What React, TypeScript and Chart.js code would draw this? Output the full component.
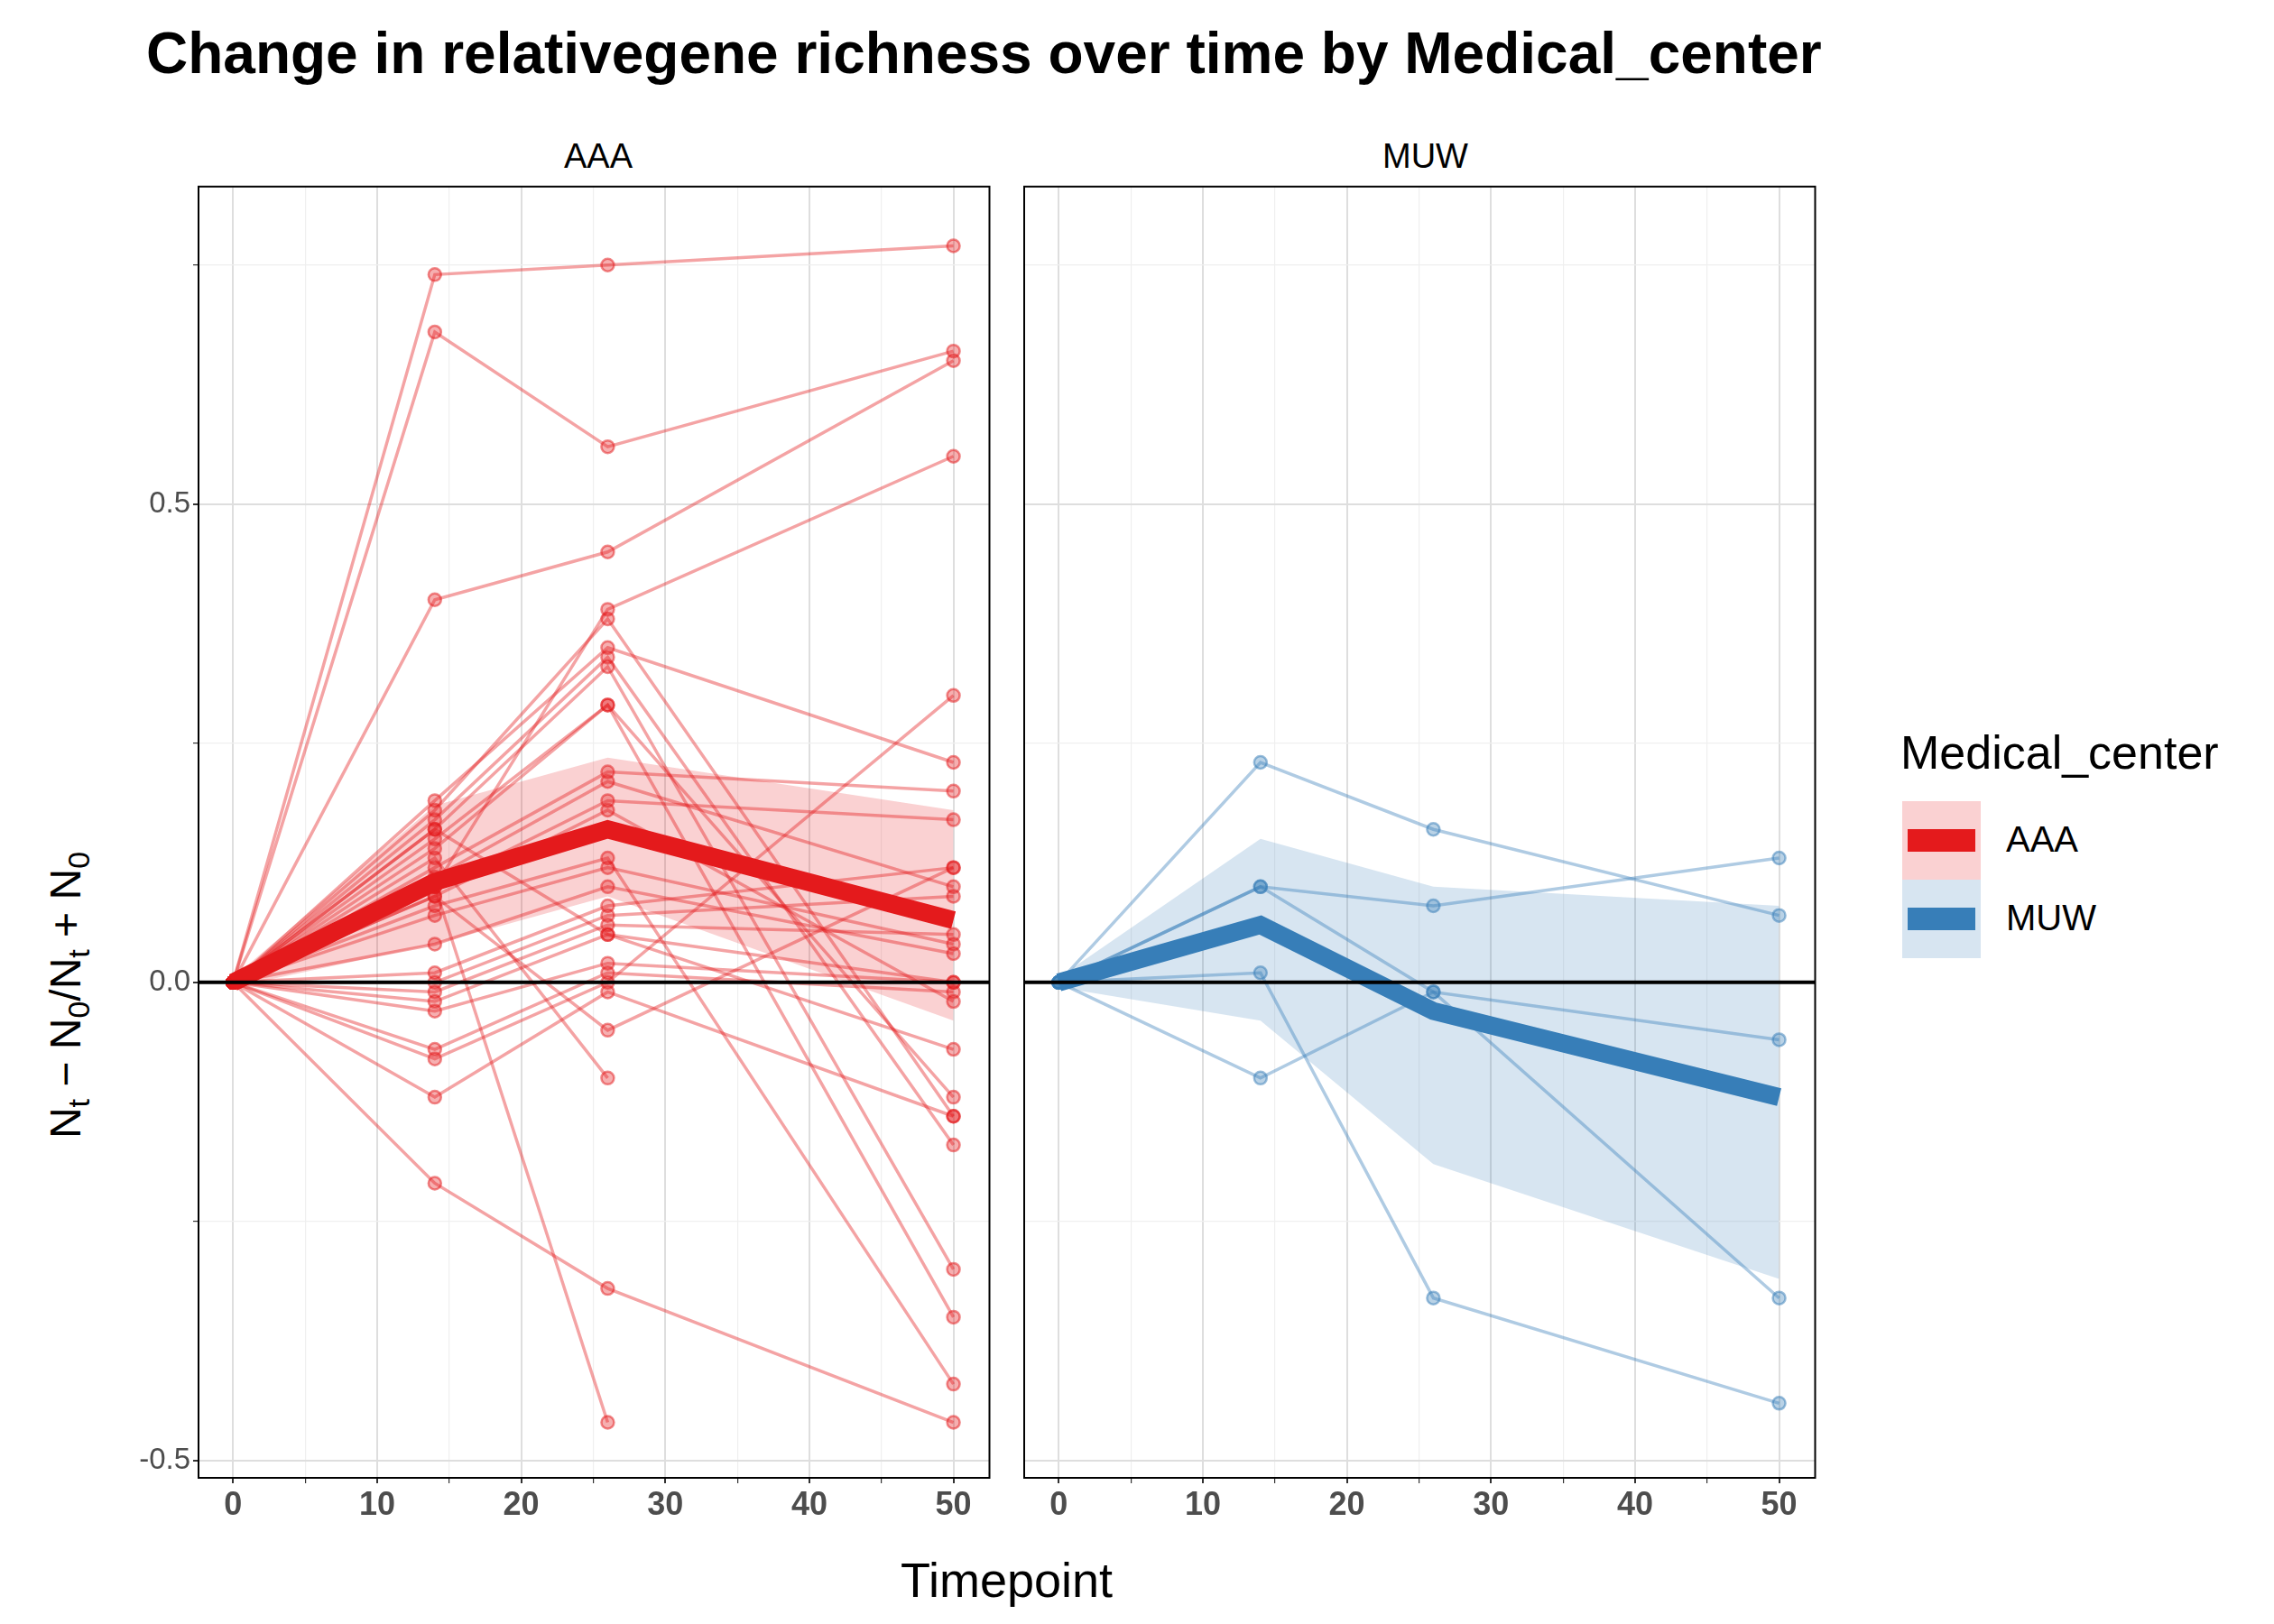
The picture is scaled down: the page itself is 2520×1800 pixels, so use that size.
import { useEffect, useRef } from "react";
import { Chart, registerables } from "chart.js";

Chart.register(...registerables);

const timepoints = [0, 14, 26, 50];

// per-subject values at timepoints (null = missing)
const aaaSubjects: (number | null)[][] = [
  [0, 0.74, 0.75, 0.77],
  [0, 0.68, 0.56, 0.66],
  [0, 0.40, 0.45, 0.65],
  [0, 0.10, 0.39, 0.55],
  [0, 0.19, 0.35, 0.23],
  [0, 0.18, 0.38, -0.14],
  [0, 0.17, 0.34, -0.17],
  [0, 0.16, 0.33, -0.30],
  [0, 0.15, 0.29, -0.12],
  [0, 0.14, 0.29, -0.35],
  [0, 0.12, 0.22, 0.20],
  [0, 0.11, 0.21, 0.10],
  [0, 0.10, 0.19, 0.17],
  [0, 0.09, 0.18, -0.02],
  [0, 0.08, 0.13, -0.42],
  [0, 0.07, 0.12, 0.04],
  [0, 0.04, 0.10, 0.03],
  [0, 0.01, 0.08, 0.12],
  [0, 0.00, 0.07, 0.09],
  [0, -0.01, 0.06, 0.05],
  [0, -0.02, 0.05, -0.07],
  [0, -0.03, 0.02, 0.00],
  [0, -0.07, 0.01, -0.01],
  [0, -0.08, 0.00, 0.30],
  [0, -0.12, -0.01, -0.14],
  [0, 0.09, -0.05, 0.12],
  [0, 0.13, -0.10, null],
  [0, -0.21, -0.32, -0.46],
  [0, 0.10, -0.46, null],
  [0, 0.16, 0.05, 0.00],
];
const aaaMean = [0, 0.105, 0.16, 0.065];
const aaaUpper = [0.005, 0.185, 0.235, 0.18];
const aaaLower = [-0.005, 0.04, 0.09, -0.04];

const muwSubjects: (number | null)[][] = [
  [0, 0.23, 0.16, 0.07],
  [0, 0.10, 0.08, 0.13],
  [0, 0.01, -0.33, -0.44],
  [0, -0.10, -0.01, -0.06],
  [0, 0.10, -0.01, -0.33],
];
const muwMean = [0, 0.06, -0.03, -0.12];
const muwUpper = [0.005, 0.15, 0.10, 0.08];
const muwLower = [-0.005, -0.04, -0.19, -0.31];

const FONT = "'Liberation Sans', Arial, sans-serif";
const isMajorY = (v: number) => Math.abs((v * 2) % 1) < 1e-6;

function Panel(props: {
  subjects: (number | null)[][];
  mean: number[];
  upper: number[];
  lower: number[];
  color: string;
  rgb: string;
  showY: boolean;
}) {
  const ref = useRef<HTMLCanvasElement | null>(null);
  useEffect(() => {
    const ctx = ref.current?.getContext("2d");
    if (!ctx) return;
    const pts = (arr: (number | null)[]) =>
      timepoints.map((t, i) => ({ x: t, y: arr[i] })).filter((p) => p.y !== null);
    const datasets: any[] = [
      { data: pts(props.upper), borderWidth: 0, pointRadius: 0, fill: false, order: 3 },
      {
        data: pts(props.lower),
        borderWidth: 0,
        pointRadius: 0,
        fill: "-1",
        backgroundColor: `rgba(${props.rgb},0.2)`,
        order: 3,
      },
      ...props.subjects.map((s) => ({
        data: pts(s),
        borderColor: `rgba(${props.rgb},0.4)`,
        borderWidth: 3.5,
        pointRadius: 7,
        pointBorderWidth: 2.5,
        pointBackgroundColor: `rgba(${props.rgb},0.35)`,
        pointBorderColor: `rgba(${props.rgb},0.5)`,
        fill: false,
        order: 2,
      })),
      { data: pts(props.mean), borderColor: props.color, borderWidth: 20, pointRadius: 0, fill: false, order: 1 },
    ];
    const frame = {
      id: "frame",
      afterDatasetsDraw(c: any) {
        const { ctx: g, chartArea: a, scales } = c;
        const y0 = scales.y.getPixelForValue(0);
        g.save();
        g.strokeStyle = "#000";
        g.lineWidth = 4;
        g.beginPath();
        g.moveTo(a.left, y0);
        g.lineTo(a.right, y0);
        g.stroke();
        g.lineWidth = 2;
        g.strokeRect(a.left, a.top, a.right - a.left, a.bottom - a.top);
        g.restore();
      },
    };
    const chart = new Chart(ctx, {
      type: "line",
      data: { datasets },
      plugins: [frame],
      options: {
        animation: false,
        responsive: false,
        layout: { padding: { top: 0, right: 1, bottom: 0, left: 0 } },
        plugins: { legend: { display: false }, tooltip: { enabled: false } },
        scales: {
          x: {
            type: "linear",
            min: -2.4,
            max: 52.5,
            afterBuildTicks: (sc: any) => {
              sc.ticks = [0, 5, 10, 15, 20, 25, 30, 35, 40, 45, 50].map((v) => ({ value: v }));
            },
            afterFit: (sc: any) => {
              sc.height = 76;
            },
            grid: {
              color: (c: any) => (c.tick && c.tick.value % 10 === 0 ? "#dedede" : "#efefef"),
              lineWidth: (c: any) => (c.tick && c.tick.value % 10 === 0 ? 2 : 1.2),
              tickLength: 6,
              tickColor: "#333",
            },
            border: { display: false },
            ticks: {
              autoSkip: false,
              maxRotation: 0,
              color: "#4d4d4d",
              font: { family: FONT, size: 36, weight: "bold" },
              callback: (v: any) => (v % 10 === 0 ? String(v) : ""),
            },
          },
          y: {
            type: "linear",
            min: -0.518,
            max: 0.832,
            afterBuildTicks: (sc: any) => {
              sc.ticks = [-0.5, -0.25, 0, 0.25, 0.5, 0.75].map((v) => ({ value: v }));
            },
            afterFit: (sc: any) => {
              sc.width = 112;
            },
            grid: {
              color: (c: any) => (c.tick && isMajorY(c.tick.value) ? "#dedede" : "#efefef"),
              lineWidth: (c: any) => (c.tick && isMajorY(c.tick.value) ? 2 : 1.2),
              tickLength: props.showY ? 6 : 0,
              tickColor: "#333",
            },
            border: { display: false },
            ticks: {
              color: props.showY ? "#4d4d4d" : "rgba(0,0,0,0)",
              font: { family: FONT, size: 33 },
              callback: (v: any) => (isMajorY(v) ? (v === -0.5 ? "-0.5" : Number(v).toFixed(1)) : ""),
            },
          },
        },
      },
    });
    return () => chart.destroy();
  }, []);
  return <canvas ref={ref} width={998} height={1530} style={{ width: 998, height: 1530, display: "block" }} />;
}

export default function App() {
  const abs = (x: number, y: number): React.CSSProperties => ({ position: "absolute", left: x, top: y });
  return (
    <div style={{ position: "relative", width: 2504, height: 1784, background: "#fff", fontFamily: FONT, overflow: "hidden" }}>
      <div style={{ ...abs(154, 14), fontSize: 64, fontWeight: "bold", color: "#000", whiteSpace: "nowrap" }}>
        Change in relativegene richness over time by Medical_center
      </div>
      <div style={{ ...abs(212, 144), width: 886, textAlign: "center", fontSize: 38 }}>AAA</div>
      <div style={{ ...abs(1127, 144), width: 889, textAlign: "center", fontSize: 38 }}>MUW</div>
      <div style={{ ...abs(100, 176) }}>
        <Panel subjects={aaaSubjects} mean={aaaMean} upper={aaaUpper} lower={aaaLower} color="#E41A1C" rgb="228,26,28" showY={true} />
      </div>
      <div style={{ ...abs(1015, 176), pointerEvents: "none" }}>
        <Panel subjects={muwSubjects} mean={muwMean} upper={muwUpper} lower={muwLower} color="#377EB8" rgb="55,126,184" showY={false} />
      </div>
      <div style={{ ...abs(990, 1712), fontSize: 54 }}>Timepoint</div>
      <div
        style={{
          position: "absolute",
          left: 68,
          top: 1095,
          transform: "translate(-50%,-50%) rotate(-90deg)",
          fontSize: 48,
          whiteSpace: "nowrap",
        }}
      >
        N<sub style={{ fontSize: 34 }}>t</sub> − N<sub style={{ fontSize: 34 }}>0</sub>/N<sub style={{ fontSize: 34 }}>t</sub> + N
        <sub style={{ fontSize: 34 }}>0</sub>
      </div>
      <div style={{ ...abs(2098, 796), fontSize: 52 }}>Medical_center</div>
      {[
        { label: "AAA", bg: "rgba(228,26,28,0.2)", c: "#E41A1C", y: 880 },
        { label: "MUW", bg: "rgba(55,126,184,0.2)", c: "#377EB8", y: 967 },
      ].map((l) => (
        <div key={l.label}>
          <div style={{ ...abs(2100, l.y), width: 87, height: 87, background: l.bg }}>
            <div style={{ position: "absolute", left: 6, right: 6, top: 31, height: 25, background: l.c }} />
          </div>
          <div style={{ ...abs(2215, l.y + 20), fontSize: 40 }}>{l.label}</div>
        </div>
      ))}
    </div>
  );
}
